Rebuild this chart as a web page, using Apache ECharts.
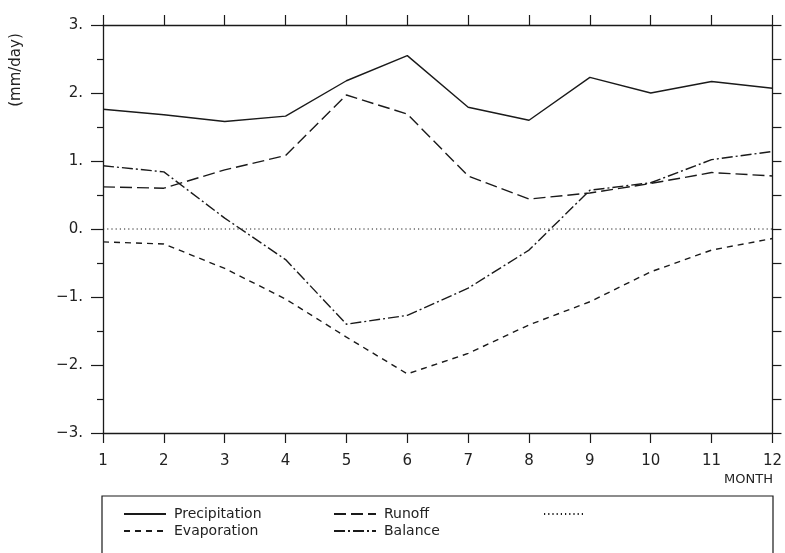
<!DOCTYPE html>
<html>
<head>
<meta charset="utf-8">
<script src="https://cdn.jsdelivr.net/npm/echarts@6/dist/echarts.min.js"></script>
<style>
  html, body { margin: 0; padding: 0; background: #fff; }
  #chart { width: 785px; height: 553px; }
</style>
</head>
<body>
<div id="chart"></div>
<script>
  // months along x
  const months = [1, 2, 3, 4, 5, 6, 7, 8, 9, 10, 11, 12]
  // values in mm/day
  const precipitation = [1.76, 1.68, 1.58, 1.66, 2.18, 2.55, 1.79, 1.60, 2.23, 2.00, 2.17, 2.07]
  const runoff = [0.62, 0.60, 0.87, 1.08, 1.97, 1.69, 0.78, 0.44, 0.53, 0.67, 0.83, 0.78]
  const evaporation = [-0.19, -0.22, -0.58, -1.03, -1.59, -2.13, -1.83, -1.41, -1.07, -0.63, -0.31, -0.14]
  const balance = [0.93, 0.84, 0.16, -0.45, -1.40, -1.27, -0.87, -0.31, 0.57, 0.68, 1.02, 1.14]
  const zeroLine = [0, 0, 0, 0, 0, 0, 0, 0, 0, 0, 0, 0]

  const ink = '#1a1a1a'
  const font = 'DejaVu Sans'

  const pairs = (vals) => months.map((m, i) => [m, vals[i]])

  const mkSeries = (name, vals, dash, width) => ({
    name: name,
    type: 'line',
    data: pairs(vals),
    symbol: 'none',
    silent: true,
    itemStyle: { color: ink },
    lineStyle: { color: ink, width: width || 1.4, type: dash },
  })

  const legendText = { color: '#222', fontSize: 14, fontFamily: font, padding: [0, 0, 0, 3] }

  const chart = echarts.init(document.getElementById('chart'))
  chart.setOption({
    animation: false,
    grid: { left: 103, right: 10, top: 25, bottom: 120 },
    xAxis: [
      {
        type: 'value', min: 1, max: 12, interval: 1,
        axisLine: { onZero: false, lineStyle: { color: ink, width: 1.3 } },
        axisTick: { length: 10, lineStyle: { color: ink, width: 1.2 } },
        axisLabel: { color: '#222', fontSize: 15, fontFamily: font, margin: 21 },
        splitLine: { show: false },
      },
      {
        type: 'value', min: 1, max: 12, interval: 1, position: 'top',
        axisLine: { onZero: false, lineStyle: { color: ink, width: 1.3 } },
        axisTick: { length: 10, lineStyle: { color: ink, width: 1.2 } },
        axisLabel: { show: false },
        splitLine: { show: false },
      },
    ],
    yAxis: [
      {
        type: 'value', min: -3, max: 3, interval: 1,
        axisLine: { show: true, onZero: false, lineStyle: { color: ink, width: 1.3 } },
        axisTick: { show: true, length: 12, lineStyle: { color: ink, width: 1.2 } },
        minorTick: { show: true, splitNumber: 2, length: 6, lineStyle: { color: ink, width: 1.2 } },
        axisLabel: {
          color: '#222', fontSize: 15, fontFamily: font, margin: 20,
          formatter: (v) => (v < 0 ? '\u2212' : '') + Math.abs(v) + '.',
        },
        splitLine: { show: false },
      },
      {
        type: 'value', min: -3, max: 3, interval: 1, position: 'right',
        axisLine: { show: true, onZero: false, lineStyle: { color: ink, width: 1.3 } },
        axisTick: { show: true, length: 9, lineStyle: { color: ink, width: 1.2 } },
        minorTick: { show: true, splitNumber: 2, length: 9, lineStyle: { color: ink, width: 1.2 } },
        axisLabel: { show: false },
        splitLine: { show: false },
      },
    ],
    legend: [
      {
        orient: 'vertical', left: 118, top: 502, itemGap: 3, itemWidth: 42, itemHeight: 14,
        data: ['Precipitation', 'Evaporation'],
        itemStyle: { opacity: 0 },
        textStyle: legendText,
        selectedMode: false,
      },
      {
        orient: 'vertical', left: 328, top: 502, itemGap: 3, itemWidth: 42, itemHeight: 14,
        data: ['Runoff', 'Balance'],
        itemStyle: { opacity: 0 },
        textStyle: legendText,
        selectedMode: false,
      },
      {
        orient: 'vertical', left: 538, top: 502, itemWidth: 42, itemHeight: 14,
        data: ['zero'], formatter: () => '',
        itemStyle: { opacity: 0 },
        selectedMode: false,
      },
    ],
    graphic: [
      {
        type: 'rect', silent: true,
        shape: { x: 102, y: 496, width: 671, height: 80 },
        style: { fill: 'none', stroke: ink, lineWidth: 1.2 },
      },
      {
        type: 'text', silent: true, x: 16, y: 70, rotation: Math.PI / 2,
        style: { text: '(mm/day)', fill: '#222', fontSize: 15, fontFamily: font, align: 'center', verticalAlign: 'middle' },
      },
      {
        type: 'text', silent: true, x: 773, y: 473,
        style: { text: 'MONTH', fill: '#222', fontSize: 13, fontFamily: font, align: 'right', verticalAlign: 'top' },
      },
    ],
    series: [
      mkSeries('Precipitation', precipitation, 'solid'),
      mkSeries('Runoff', runoff, [12, 5]),
      mkSeries('Evaporation', evaporation, [6, 5]),
      mkSeries('Balance', balance, [11, 3, 2, 3]),
      mkSeries('zero', zeroLine, [1.2, 3], 1),
    ],
  })
</script>
</body>
</html>
